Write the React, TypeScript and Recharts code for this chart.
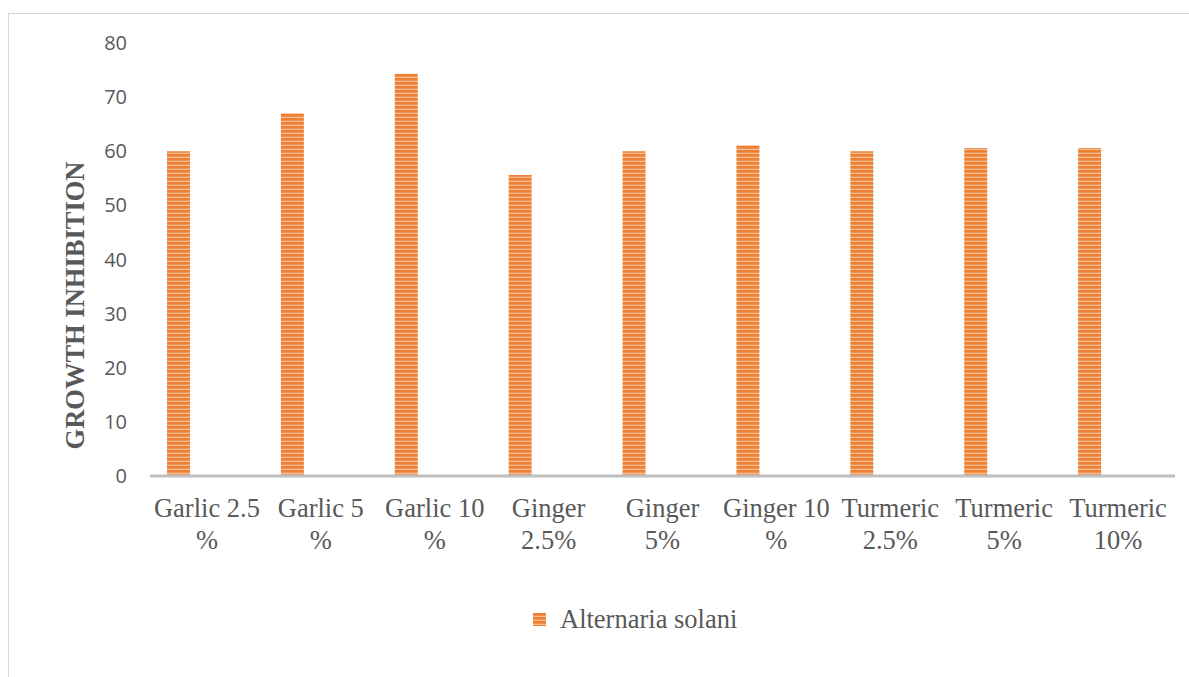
import React from "react";
import { BarChart, Bar, XAxis, YAxis, Legend } from "recharts";

const treatments = [
  "Garlic 2.5 %",
  "Garlic 5 %",
  "Garlic 10 %",
  "Ginger 2.5%",
  "Ginger 5%",
  "Ginger 10 %",
  "Turmeric 2.5%",
  "Turmeric 5%",
  "Turmeric 10%",
];
// wrapped the way the category labels break under each bar
const tickLines = [
  ["Garlic 2.5", "%"],
  ["Garlic 5", "%"],
  ["Garlic 10", "%"],
  ["Ginger", "2.5%"],
  ["Ginger", "5%"],
  ["Ginger 10", "%"],
  ["Turmeric", "2.5%"],
  ["Turmeric", "5%"],
  ["Turmeric", "10%"],
];
const inhibition = [60, 67, 74.3, 55.6, 60, 61.1, 60, 60.6, 60.6];
const yTicks = [0, 10, 20, 30, 40, 50, 60, 70, 80];
const seriesName = "Alternaria solani";

const data = treatments.map((t, i) => ({
  name: t,
  solani: inhibition[i],
  spacer: null,
}));

const TEXT = "#595959";
const SERIF = "'Liberation Serif', 'Times New Roman', serif";
const SERIF_SIZE = 26.5;

const CategoryTick = (props: any) => {
  const { x, y, payload, index } = props;
  const lines = tickLines[index ?? payload.index] || [payload.value];
  return (
    <text x={x} y={y} textAnchor="middle" fill={TEXT} fontSize={SERIF_SIZE} fontFamily={SERIF}>
      {lines.map((l: string, i: number) => (
        <tspan key={i} x={x} dy={i === 0 ? 39 : 32}>
          {l}
        </tspan>
      ))}
    </text>
  );
};

const AxisTitle = (props: any) => {
  const { viewBox } = props;
  const cx = viewBox.x + 66;
  const cy = viewBox.y + viewBox.height / 2 + 46;
  return (
    <text
      x={cx}
      y={cy}
      transform={`rotate(-90, ${cx}, ${cy})`}
      textAnchor="middle"
      dominantBaseline="central"
      fill={TEXT}
      fontSize={SERIF_SIZE}
      fontWeight="bold"
      fontFamily={SERIF}
    >
      GROWTH INHIBITION
    </text>
  );
};

const LegendBox = () => (
  <div style={{ display: "flex", alignItems: "center", height: 30 }}>
    <svg width={13} height={13} style={{ marginRight: 14 }}>
      <rect width={13} height={13} fill="url(#stripes)" />
    </svg>
    <span style={{ fontFamily: SERIF, fontSize: SERIF_SIZE, color: TEXT }}>{seriesName}</span>
  </div>
);

export default function App() {
  return (
    <div
      style={{
        position: "absolute",
        left: 8,
        top: 13,
        width: 1181,
        height: 664,
        borderTop: "1px solid #D9D9D9",
        borderLeft: "1px solid #D9D9D9",
        boxSizing: "border-box",
        background: "#fff",
      }}
    >
      <BarChart
        width={1180}
        height={663}
        data={data}
        margin={{ top: 29, right: 14, bottom: 90, left: 0 }}
        barSize={23}
        barGap={34}
      >
        <defs>
          <pattern id="stripes" patternUnits="userSpaceOnUse" width={8} height={4}>
            <rect width={8} height={4} fill="#F6BE94" />
            <rect width={8} height={2.7} fill="#EE7F33" />
          </pattern>
        </defs>
        <XAxis
          dataKey="name"
          axisLine={{ stroke: "#BFBFBF", strokeWidth: 3 }}
          tickLine={false}
          tickSize={0}
          height={81}
          interval={0}
          tick={<CategoryTick />}
        />
        <YAxis
          width={141}
          domain={[0, 80]}
          ticks={yTicks}
          axisLine={false}
          tickLine={false}
          tickSize={0}
          tickMargin={23}
          tick={{ fill: TEXT, fontSize: 20, fontFamily: "'Open Sans', sans-serif" }}
          label={<AxisTitle />}
        />
        <Legend
          content={<LegendBox />}
          wrapperStyle={{ position: "absolute", left: 524, top: 590, width: "auto" }}
        />
        <Bar dataKey="solani" name={seriesName} fill="url(#stripes)" isAnimationActive={false} />
        <Bar dataKey="spacer" legendType="none" fill="none" isAnimationActive={false} />
      </BarChart>
    </div>
  );
}
